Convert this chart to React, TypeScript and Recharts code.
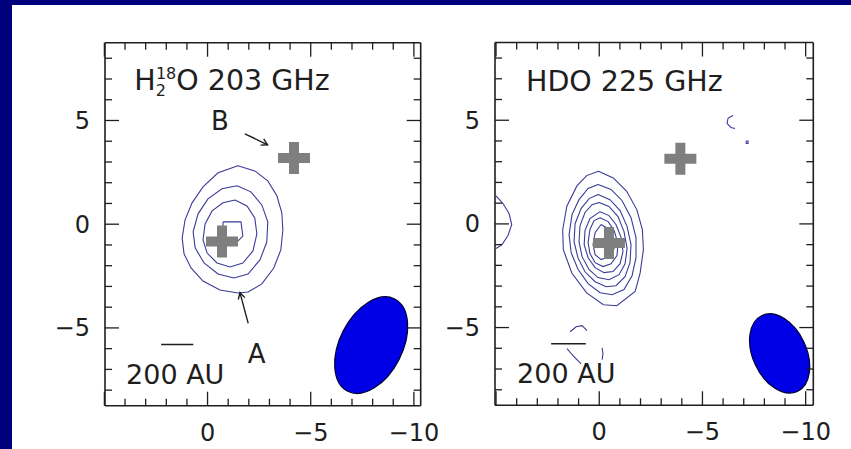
import React from "react";
import { ScatterChart, Scatter, XAxis, YAxis } from "recharts";

type Pt = { x: number; y: number };
const pts = (a: number[][]): Pt[] => a.map(([x, y]) => ({ x, y }));

const X_TICKS = [-10, -9, -8, -7, -6, -5, -4, -3, -2, -1, 0, 1, 2, 3, 4, 5];
const Y_TICKS = [-8, -7, -6, -5, -4, -3, -2, -1, 0, 1, 2, 3, 4, 5, 6, 7, 8];
const X_LABELS = [0, -5, -10];
const Y_LABELS = [5, 0, -5];

// H2 18O 203 GHz panel (offsets in arcsec-like units)
const h2oOuter = pts([
  [-1.47, 2.82], [-2.29, 2.57], [-2.92, 2.09], [-3.36, 1.37], [-3.6, 0.55], [-3.65, -0.28],
  [-3.55, -1.24], [-3.21, -2.11], [-2.63, -2.88], [-1.96, -3.27], [-1.47, -3.32], [-0.6, -3.17],
  [0.22, -2.74], [0.8, -2.11], [1.14, -1.43], [1.23, -0.66], [1.09, 0.21], [0.75, 1.03],
  [0.22, 1.8], [-0.51, 2.48], [-1.47, 2.82],
]);
const h2oMid = pts([
  [-1.43, 1.85], [-2.1, 1.56], [-2.63, 0.93], [-2.92, 0.11], [-2.87, -0.86], [-2.54, -1.72],
  [-1.96, -2.4], [-1.28, -2.59], [-0.51, -2.4], [0.17, -1.87], [0.6, -1.14], [0.7, -0.37],
  [0.46, 0.5], [-0.02, 1.22], [-0.7, 1.71], [-1.43, 1.85],
]);
const h2oInner = pts([
  [-1.33, 1.17], [-1.91, 0.88], [-2.29, 0.3], [-2.39, -0.47], [-2.2, -1.29], [-1.71, -1.87],
  [-1.09, -2.06], [-0.46, -1.87], [0.02, -1.39], [0.22, -0.76], [0.12, 0.01], [-0.22, 0.64],
  [-0.75, 1.03], [-1.33, 1.17],
]);
const h2oPeak = pts([[-0.75, 0.11], [-1.62, 0.11], [-1.71, -0.57], [-1.38, -0.9], [-0.75, -0.9], [-0.75, 0.11]]);
const h2oSources = pts([[-0.7, -0.84], [-4.19, 3.19]]);
const h2oBeam = [{ x: -7.93, y: -5.83, major: 2.51, minor: 1.52, angle: 27 }];
const h2oScaleBar = pts([[2.25, -5.8], [0.69, -5.8]]);
const h2oArrowB = pts([[-1.81, 4.36], [-2.91, 3.83]]);
const h2oArrowBHead = pts([[-2.72, 4.11], [-2.91, 3.83], [-2.57, 3.81]]);
const h2oArrowA = pts([[-1.97, -4.78], [-1.57, -3.3]]);
const h2oArrowAHead = pts([[-1.49, -3.63], [-1.57, -3.3], [-1.81, -3.54]]);
const h2oTexts = [
  { x: 3.55, y: 6.45, text: "H", sub: "2", sup: "18", rest: "O 203 GHz", size: 28.5, anchor: "start" },
  { x: -0.6, y: 4.55, text: "B", size: 26, anchor: "middle" },
  { x: -2.38, y: -6.7, text: "A", size: 26, anchor: "middle" },
  { x: 3.95, y: -7.68, text: "200 AU", size: 27, anchor: "start" },
];

// HDO 225 GHz panel
const hdoRings = [
  [
    [0.04, 2.54], [-0.68, 2.22], [-1.33, 1.57], [-1.82, 0.69], [-2.09, -0.28], [-2.14, -1.24],
    [-1.98, -2.37], [-1.74, -3.26], [-0.85, -3.95], [-0.2, -3.9], [0.61, -3.33], [1.33, -2.37],
    [1.74, -1.24], [1.77, -0.28], [1.57, 0.85], [1.09, 1.82], [0.61, 2.33], [0.04, 2.54],
  ],
  [
    [0.06, 1.9], [-0.57, 1.66], [-1.1, 1.13], [-1.54, 0.3], [-1.78, -0.66], [-1.78, -1.63],
    [-1.59, -2.5], [-1.2, -3.17], [-0.62, -3.42], [-0.04, -3.32], [0.54, -2.88], [1.03, -2.19],
    [1.36, -1.39], [1.46, -0.52], [1.32, 0.45], [0.98, 1.17], [0.54, 1.71], [0.06, 1.9],
  ],
  [
    [0.06, 1.42], [-0.52, 1.17], [-1.01, 0.64], [-1.35, -0.13], [-1.54, -1.0], [-1.49, -1.87],
    [-1.25, -2.55], [-0.81, -2.98], [-0.33, -3.03], [0.2, -2.79], [0.69, -2.31], [1.03, -1.64],
    [1.22, -0.86], [1.17, 0.01], [0.88, 0.74], [0.49, 1.22], [0.06, 1.42],
  ],
  [
    [0.01, 1.03], [-0.47, 0.84], [-0.91, 0.35], [-1.2, -0.37], [-1.35, -1.19], [-1.25, -1.92],
    [-0.96, -2.45], [-0.47, -2.69], [0.06, -2.59], [0.49, -2.21], [0.83, -1.58], [0.98, -0.86],
    [0.93, -0.08], [0.69, 0.55], [0.35, 0.93], [0.01, 1.03],
  ],
  [
    [-0.04, 0.59], [-0.47, 0.4], [-0.81, -0.03], [-1.06, -0.66], [-1.15, -1.34], [-1.01, -1.92],
    [-0.67, -2.3], [-0.23, -2.35], [0.2, -2.11], [0.54, -1.63], [0.73, -1.0], [0.69, -0.32],
    [0.45, 0.26], [-0.04, 0.59],
  ],
  [
    [-0.04, 0.3], [-0.43, 0.11], [-0.72, -0.32], [-0.91, -0.95], [-0.86, -1.53], [-0.57, -1.92],
    [-0.18, -2.06], [0.2, -1.87], [0.45, -1.43], [0.54, -0.9], [0.45, -0.27], [0.25, 0.16], [-0.04, 0.3],
  ],
  [
    [-0.09, -0.03], [-0.43, -0.23], [-0.67, -0.66], [-0.72, -1.19], [-0.47, -1.58], [-0.09, -1.72],
    [0.2, -1.48], [0.3, -1.0], [0.2, -0.42], [-0.09, -0.03],
  ],
].map(pts);
const hdoFragments = [
  [[5.0, 1.35], [4.66, 0.98], [4.37, 0.5], [4.24, -0.03], [4.42, -0.56], [4.71, -1.0], [5.0, -1.19]],
  [[-6.48, 5.23], [-6.24, 5.09], [-6.19, 4.85], [-6.38, 4.65], [-6.58, 4.6]],
  [[-7.12, 4.0], [-7.21, 4.0], [-7.21, 3.88], [-7.12, 3.88], [-7.12, 4.0]],
  [[1.41, -5.2], [1.12, -4.96], [0.83, -4.91], [0.59, -5.15]],
  [[1.56, -6.02], [1.27, -6.36], [0.88, -6.75]],
  [[-0.14, -5.98], [-0.18, -6.26], [-0.14, -6.55]],
].map(pts);
const hdoSources = pts([[-0.47, -0.92], [-3.93, 3.14]]);
const hdoBeam = [{ x: -8.74, y: -6.25, major: 2.03, minor: 1.3, angle: -25 }];
const hdoScaleBar = pts([[2.33, -5.78], [0.65, -5.78]]);
const hdoTexts = [
  { x: 3.55, y: 6.4, text: "HDO 225 GHz", size: 28.5, anchor: "start" },
  { x: 3.98, y: -7.68, text: "200 AU", size: 27, anchor: "start" },
];

const INK = "#1e1e1e";
const CONTOUR = "#3b3b98";
const GREY = "#7f7f7f";
const BEAM = "#0000e6";
const FONT = "DejaVu Sans";
const fmt = (v: number) => (v < 0 ? "\u2212" + Math.abs(v) : String(v));

function makeTick(side: "bottom" | "top" | "left" | "right", labels: number[]) {
  return (p: any) => {
    const { x, y, payload } = p;
    const v = payload.value as number;
    const len = v % 5 === 0 ? 14 : 7;
    let x2 = x, y2 = y;
    if (side === "bottom") y2 = y - len;
    if (side === "top") y2 = y + len;
    if (side === "left") x2 = x + len;
    if (side === "right") x2 = x - len;
    const show = labels.includes(v);
    return (
      <g>
        <line x1={x} y1={y} x2={x2} y2={y2} stroke={INK} strokeWidth={1.3} />
        {show && side === "bottom" && (
          <text x={x} y={y + 35} textAnchor="middle" fontSize={24} fontFamily={FONT} fill={INK}>
            {fmt(v)}
          </text>
        )}
        {show && side === "left" && (
          <text x={x - 15} y={y + 8.5} textAnchor="end" fontSize={24} fontFamily={FONT} fill={INK}>
            {fmt(v)}
          </text>
        )}
      </g>
    );
  };
}

const Plus = (p: any) => {
  const { cx, cy } = p;
  const a = 16, t = 5;
  const d = `M${cx - t},${cy - a}H${cx + t}V${cy - t}H${cx + a}V${cy + t}H${cx + t}V${cy + a}H${cx - t}V${cy + t}H${cx - a}V${cy - t}H${cx - t}Z`;
  return <path d={d} fill={GREY} />;
};

const Label = (p: any) => {
  const { cx, cy, payload } = p;
  if (payload.sub) {
    return (
      <text x={cx} y={cy} fontSize={payload.size} fontFamily={FONT} fill={INK}>
        {payload.text}
        <tspan fontSize={16} dy={6}>{payload.sub}</tspan>
        <tspan fontSize={16} dx={-10} dy={-17}>{payload.sup}</tspan>
        <tspan dy={11}>{payload.rest}</tspan>
      </text>
    );
  }
  return (
    <text x={cx} y={cy} fontSize={payload.size} fontFamily={FONT} fill={INK} textAnchor={payload.anchor}>
      {payload.text}
    </text>
  );
};

const Empty = () => <g />;

type PanelProps = {
  left: number;
  width: number;
  margin: { top: number; left: number; right: number; bottom: number };
  xDomain: [number, number];
  contours: Pt[][];
  strokes: Pt[][];
  sources: Pt[];
  beam: { x: number; y: number; major: number; minor: number; angle: number }[];
  texts: any[];
};

const Y_DOMAIN: [number, number] = [-8.75, 8.75];
const HEIGHT = 449;

// margin is the plot frame's inset; each axis takes 1px of it so it gets drawn
function Panel({ left, width, margin, xDomain, contours, strokes, sources, beam, texts }: PanelProps) {
  const ppu = (width - margin.left - margin.right) / (xDomain[1] - xDomain[0]);
  const m = { top: margin.top - 1, left: margin.left - 1, right: margin.right - 1, bottom: margin.bottom - 1 };
  const Beam = (p: any) => {
    const { cx, cy, payload } = p;
    return (
      <ellipse
        cx={cx}
        cy={cy}
        rx={payload.minor * ppu}
        ry={payload.major * ppu}
        transform={`rotate(${payload.angle} ${cx} ${cy})`}
        fill={BEAM}
        stroke="#000033"
        strokeWidth={1.2}
      />
    );
  };
  const axisCommon = { type: "number" as const, tickSize: 0, tickMargin: 0, interval: 0 as const, allowDataOverflow: true };
  const frame = { stroke: INK, strokeWidth: 1.6 };
  return (
    <div style={{ position: "absolute", left, top: 0 }}>
      <ScatterChart width={width} height={HEIGHT} margin={m}>
        <XAxis {...axisCommon} dataKey="x" xAxisId={0} orientation="bottom" height={1} domain={xDomain} reversed ticks={X_TICKS} axisLine={frame} tickLine={false} tick={makeTick("bottom", X_LABELS)} />
        <XAxis {...axisCommon} dataKey="x" xAxisId="top" orientation="top" height={1} domain={xDomain} reversed ticks={X_TICKS} axisLine={frame} tickLine={false} tick={makeTick("top", [])} />
        <YAxis {...axisCommon} dataKey="y" yAxisId={0} orientation="left" width={1} domain={Y_DOMAIN} ticks={Y_TICKS} axisLine={frame} tickLine={false} tick={makeTick("left", Y_LABELS)} />
        <YAxis {...axisCommon} dataKey="y" yAxisId="right" orientation="right" width={1} domain={Y_DOMAIN} ticks={Y_TICKS} axisLine={frame} tickLine={false} tick={makeTick("right", [])} />
        {contours.map((c, i) => (
          <Scatter key={`c${i}`} data={c} fill={CONTOUR} line={{ stroke: CONTOUR, strokeWidth: 1.1 }} shape={Empty} isAnimationActive={false} />
        ))}
        {strokes.map((s, i) => (
          <Scatter key={`s${i}`} data={s} fill={INK} line={{ stroke: INK, strokeWidth: 1.4 }} shape={Empty} isAnimationActive={false} />
        ))}
        <Scatter data={sources} xAxisId="top" yAxisId="right" shape={Plus} isAnimationActive={false} />
        <Scatter data={beam} shape={Beam} isAnimationActive={false} />
        <Scatter data={texts} shape={Label} isAnimationActive={false} />
      </ScatterChart>
    </div>
  );
}

export default function App() {
  return (
    <div style={{ position: "absolute", left: 0, top: 0, width: 851, height: 449, background: "#00007c", overflow: "hidden" }}>
      <div style={{ position: "absolute", left: 12, top: 5, right: 0, bottom: 0, background: "#ffffff" }} />
      <Panel
        left={0}
        width={450}
        margin={{ top: 42.7, left: 105, right: 29.3, bottom: 43.3 }}
        xDomain={[-10.33, 4.97]}
        contours={[h2oOuter, h2oMid, h2oInner, h2oPeak]}
        strokes={[h2oScaleBar, h2oArrowB, h2oArrowBHead, h2oArrowA, h2oArrowAHead]}
        sources={h2oSources}
        beam={h2oBeam}
        texts={h2oTexts}
      />
      <Panel
        left={425}
        width={426}
        margin={{ top: 42.5, left: 70, right: 37.7, bottom: 43.7 }}
        xDomain={[-10.37, 5.05]}
        contours={[...hdoRings, ...hdoFragments]}
        strokes={[hdoScaleBar]}
        sources={hdoSources}
        beam={hdoBeam}
        texts={hdoTexts}
      />
    </div>
  );
}
